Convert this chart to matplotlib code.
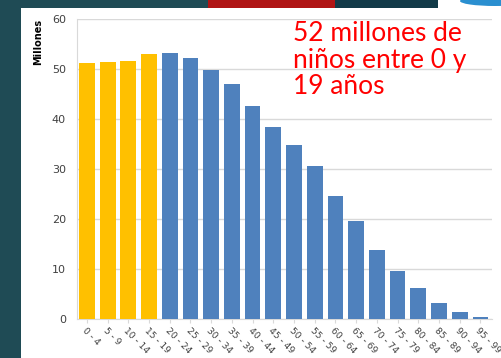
import matplotlib.pyplot as plt
from matplotlib.patches import Rectangle, Ellipse

# age groups and population (millions)
grupos = ["0 - 4", "5 - 9", "10 - 14", "15 - 19", "20 - 24", "25 - 29", "30 - 34",
          "35 - 39", "40 - 44", "45 - 49", "50 - 54", "55 - 59", "60 - 64",
          "65 - 69", "70 - 74", "75 - 79", "80 - 84", "85 - 89", "90 - 94", "95 - 99"]
millones = [51.3, 51.4, 51.7, 53.1, 53.3, 52.3, 49.8, 47.1, 42.7, 38.5,
            34.9, 30.7, 24.7, 19.6, 13.9, 9.7, 6.3, 3.3, 1.4, 0.5]
n_ninos = 4  # first four groups highlighted

W, H = 501, 358
fig = plt.figure(figsize=(W / 100, H / 100), dpi=100)
fig.patch.set_facecolor("#1f4b55")

# slide decorations: white panel and top strip
fig.add_artist(Rectangle((21 / W, 0), 1 - 21 / W, 1 - 8 / H, transform=fig.transFigure,
                         facecolor="white", edgecolor="none", zorder=0))
fig.add_artist(Rectangle((208 / W, 1 - 8 / H), 127 / W, 8 / H, transform=fig.transFigure,
                         facecolor="#b01515", edgecolor="none", zorder=0))
fig.add_artist(Rectangle((335 / W, 1 - 8 / H), 103 / W, 8 / H, transform=fig.transFigure,
                         facecolor="#123a48", edgecolor="none", zorder=0))
fig.add_artist(Rectangle((438 / W, 1 - 8 / H), 63 / W, 8 / H, transform=fig.transFigure,
                         facecolor="white", edgecolor="none", zorder=0))
fig.add_artist(Ellipse((495 / W, 1 - 1 / H), 70 / W, 10 / H, transform=fig.transFigure,
                       facecolor="#2a8fd0", edgecolor="none", zorder=0))

ax = fig.add_axes([77 / W, 1 - 319 / H, (492 - 77) / W, (319 - 19) / H])
ax.set_facecolor("none")

colores = ["#ffc000"] * n_ninos + ["#4f81bd"] * (len(grupos) - n_ninos)
x = list(range(len(grupos)))
ax.bar(x, millones, width=0.76, color=colores, zorder=3)

ax.set_ylim(0, 60)
ax.set_xlim(-0.48, 19.56)
ax.set_yticks(range(0, 61, 10))
ax.yaxis.grid(True, color="#d9d9d9", linewidth=1, zorder=0)
ax.set_xticks(x)
ax.set_xticklabels(grupos, rotation=-45, ha="left", va="top",
                   rotation_mode="anchor", fontsize=6.6, color="#404040")
ax.tick_params(axis="y", length=0, labelsize=8, labelcolor="#404040", pad=8)
ax.tick_params(axis="x", length=3, color="#d9d9d9", pad=2)
for s in ["top", "right"]:
    ax.spines[s].set_visible(False)
ax.spines["left"].set_color("#d9d9d9")
ax.spines["bottom"].set_color("#d9d9d9")

ax.set_ylabel("Millones", fontsize=7, fontweight="bold", color="black")
ax.yaxis.set_label_coords(-34 / (492 - 77), 1 - 23 / 300)

fig.text(293 / W, 1 - 21 / H, "52 millones de\nniños entre 0 y\n19 años",
         color="#ff0000", fontsize=19, va="top", ha="left", linespacing=1.08,
         family="Lato")

fig.savefig("out.png", dpi=100, facecolor=fig.get_facecolor())
